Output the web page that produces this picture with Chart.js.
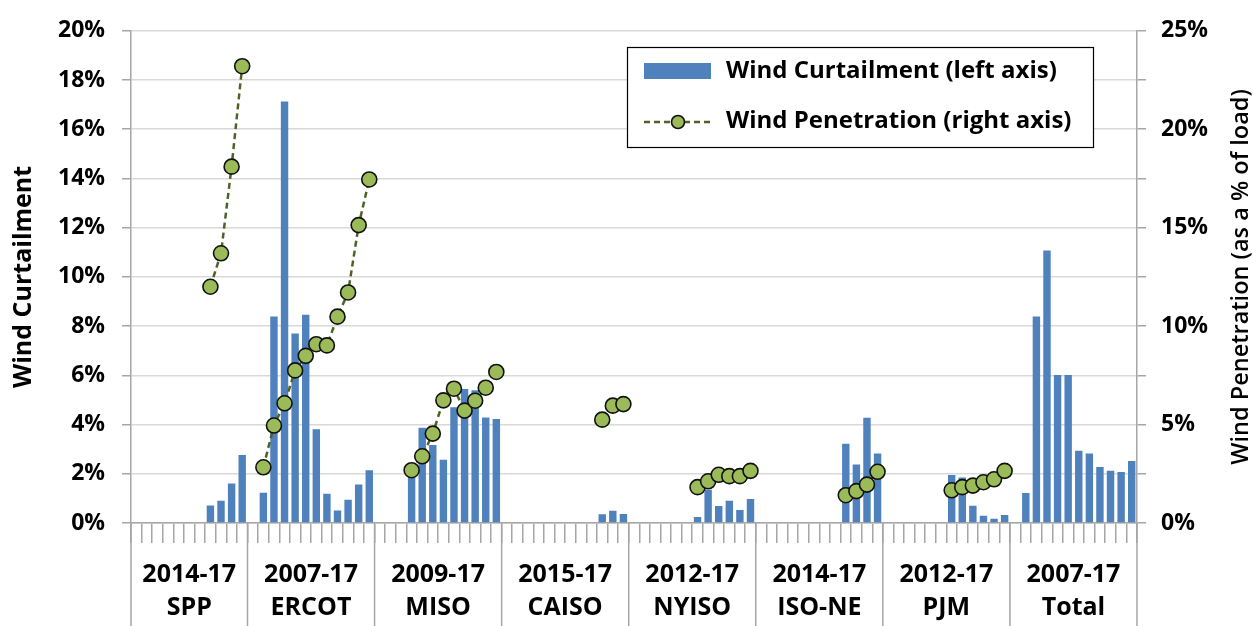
<!DOCTYPE html>
<html>
<head>
<meta charset="utf-8">
<script src="https://cdn.jsdelivr.net/npm/chart.js@4.4.1/dist/chart.umd.min.js"></script>
<style>
  html, body { margin: 0; padding: 0; background: #fff; }
</style>
</head>
<body>
<canvas id="grafico" width="1253" height="626"></canvas>
<script>
const years = ['2007', '2008', '2009', '2010', '2011', '2012', '2013', '2014', '2015', '2016', '2017'];
const regions = ['SPP', 'ERCOT', 'MISO', 'CAISO', 'NYISO', 'ISO-NE', 'PJM', 'Total'];
const periods = ['2014-17', '2007-17', '2009-17', '2015-17', '2012-17', '2014-17', '2012-17', '2007-17'];

// wind curtailment, % of potential generation (one row per region, 2007..2017)
const curtailment = [
  [null, null, null, null, null, null, null, 0.71, 0.90, 1.60, 2.76],
  [1.23, 8.39, 17.13, 7.70, 8.46, 3.81, 1.19, 0.51, 0.94, 1.56, 2.14],
  [null, null, 2.20, 3.87, 3.17, 2.57, 4.70, 5.44, 5.39, 4.29, 4.23],
  [null, null, null, null, null, null, null, null, 0.36, 0.50, 0.37],
  [null, null, null, null, null, 0.24, 1.35, 0.69, 0.90, 0.53, 0.98],
  [null, null, null, null, null, null, null, 3.22, 2.38, 4.28, 2.82],
  [null, null, null, null, null, 1.95, 1.85, 0.70, 0.29, 0.17, 0.32],
  [1.22, 8.39, 11.07, 6.01, 6.01, 2.94, 2.82, 2.28, 2.12, 2.07, 2.52]
];

// wind penetration, % of load
const penetration = [
  [null, null, null, null, null, null, null, 12.0, 13.7, 18.1, 23.2],
  [2.83, 4.95, 6.08, 7.75, 8.49, 9.08, 9.02, 10.48, 11.71, 15.13, 17.45],
  [null, null, 2.68, 3.39, 4.54, 6.23, 6.82, 5.71, 6.21, 6.87, 7.67],
  [null, null, null, null, null, null, null, null, 5.25, 5.96, 6.04],
  [null, null, null, null, null, 1.82, 2.12, 2.45, 2.38, 2.38, 2.65],
  [null, null, null, null, null, null, null, 1.41, 1.62, 1.95, 2.60],
  [null, null, null, null, null, 1.66, 1.82, 1.90, 2.07, 2.22, 2.65],
  [null, null, null, null, null, null, null, null, null, null, null]
];

const leftTicks = { min: 0, max: 20, step: 2 };
const rightTicks = { min: 0, max: 25, step: 2.5, labelEvery: 5 };

// one slot per year, plus an empty slot in front of every group but the first
const labels = [];
const barData = [];
const lineData = [];
const groupFirst = [];
const groupLast = [];
regions.forEach((r, g) => {
  groupFirst.push(labels.length);
  if (g > 0) { labels.push(''); barData.push(null); lineData.push(null); }
  years.forEach((y, k) => {
    labels.push(r + ' ' + y);
    barData.push(curtailment[g][k]);
    lineData.push(penetration[g][k]);
  });
  groupLast.push(labels.length - 1);
});

const FONT = '"Open Sans"';
const GRIS = '#A6A6A6';

const ejeCategorias = {
  id: 'ejeCategorias',
  afterDraw(chart) {
    const { ctx, chartArea, scales: { x } } = chart;
    const slot = x.width / labels.length;
    ctx.save();

    // group separators running down through the label area
    ctx.strokeStyle = GRIS;
    ctx.lineWidth = 1.5;
    ctx.beginPath();
    groupFirst.forEach(i => {
      const px = x.getPixelForValue(i) - slot / 2;
      ctx.moveTo(px, chartArea.bottom);
      ctx.lineTo(px, chart.height);
    });
    ctx.moveTo(chartArea.right, chartArea.bottom);
    ctx.lineTo(chartArea.right, chart.height);
    ctx.stroke();

    // two-level category labels
    ctx.fillStyle = '#000';
    ctx.font = 'bold 25px ' + FONT;
    ctx.textAlign = 'center';
    ctx.textBaseline = 'alphabetic';
    regions.forEach((r, g) => {
      const a = x.getPixelForValue(groupFirst[g]) - slot / 2;
      const b = x.getPixelForValue(groupLast[g]) + slot / 2;
      ctx.fillText(periods[g], (a + b) / 2, 582);
      ctx.fillText(r, (a + b) / 2, 615);
    });

    // right axis title, reading bottom to top
    ctx.save();
    ctx.translate(1241, (chartArea.top + chartArea.bottom) / 2);
    ctx.rotate(-Math.PI / 2);
    ctx.textBaseline = 'middle';
    ctx.font = '600 23.5px ' + FONT;
    ctx.fillText('Wind Penetration (as a % of load)', 0, 0);
    ctx.restore();

    // legend
    const bar = chart.data.datasets[0];
    const line = chart.data.datasets[1];
    ctx.fillStyle = '#fff';
    ctx.fillRect(627, 47, 466, 100);
    ctx.strokeStyle = '#000';
    ctx.lineWidth = 1.2;
    ctx.strokeRect(627.5, 47.5, 466, 100);
    ctx.fillStyle = bar.backgroundColor;
    ctx.fillRect(644, 63, 67, 16);

    ctx.strokeStyle = line.borderColor;
    ctx.lineWidth = line.borderWidth;
    ctx.setLineDash(line.borderDash);
    ctx.beginPath();
    ctx.moveTo(644, 122);
    ctx.lineTo(711, 122);
    ctx.stroke();
    ctx.setLineDash([]);
    ctx.beginPath();
    ctx.arc(678, 122, 6.5, 0, Math.PI * 2);
    ctx.fillStyle = line.pointBackgroundColor;
    ctx.fill();
    ctx.lineWidth = line.pointBorderWidth;
    ctx.strokeStyle = line.pointBorderColor;
    ctx.stroke();

    ctx.fillStyle = '#000';
    ctx.font = 'bold 24px ' + FONT;
    ctx.textAlign = 'left';
    ctx.textBaseline = 'middle';
    ctx.fillText(bar.label, 726, 71);
    ctx.fillText(line.label, 726, 121);
    ctx.restore();
  }
};

new Chart(document.getElementById('grafico'), {
  type: 'bar',
  data: {
    labels: labels,
    datasets: [{
      type: 'bar',
      label: 'Wind Curtailment (left axis)',
      data: barData,
      backgroundColor: '#4F81BD',
      yAxisID: 'y',
      barPercentage: 0.7,
      categoryPercentage: 1,
      order: 1
    }, {
      type: 'line',
      label: 'Wind Penetration (right axis)',
      data: lineData,
      yAxisID: 'y1',
      borderColor: '#4F6228',
      borderWidth: 2.5,
      borderDash: [6, 4],
      pointRadius: 7.5,
      pointBackgroundColor: '#9BBB59',
      pointBorderColor: '#111',
      pointBorderWidth: 1.6,
      tension: 0,
      spanGaps: false,
      order: 0
    }]
  },
  options: {
    responsive: false,
    animation: false,
    devicePixelRatio: 1,
    layout: { padding: { top: 20, right: 0, bottom: 0, left: 0 } },
    plugins: { legend: { display: false }, tooltip: { enabled: false } },
    scales: {
      x: {
        offset: true,
        ticks: { display: false, autoSkip: false },
        grid: { offset: true, drawOnChartArea: false, drawTicks: true, tickLength: 20, color: GRIS, lineWidth: 1.5 },
        border: { display: true, color: GRIS, width: 1.5 },
        afterFit(s) { s.height = 103; }
      },
      y: {
        position: 'left',
        min: leftTicks.min,
        max: leftTicks.max,
        ticks: {
          stepSize: leftTicks.step,
          callback: v => v + '%',
          color: '#000',
          padding: 17,
          font: { family: FONT, weight: 'bold', size: 23 }
        },
        grid: { color: '#D9D9D9', lineWidth: 1.5, tickColor: GRIS, tickLength: 9 },
        border: { color: GRIS, width: 1.5 },
        title: {
          display: true,
          text: 'Wind Curtailment',
          color: '#000',
          padding: { top: 9 },
          font: { family: FONT, weight: 'bold', size: 25 }
        },
        afterFit(s) { s.width = 131; }
      },
      y1: {
        position: 'right',
        min: rightTicks.min,
        max: rightTicks.max,
        ticks: {
          stepSize: rightTicks.step,
          callback: v => Math.abs(v / rightTicks.labelEvery - Math.round(v / rightTicks.labelEvery)) < 1e-6 ? v + '%' : '',
          color: '#000',
          padding: 15,
          font: { family: FONT, weight: 'bold', size: 23 }
        },
        grid: { drawOnChartArea: false, tickColor: GRIS, tickLength: 9, lineWidth: 1.5 },
        border: { color: GRIS, width: 1.5 },
        afterFit(s) { s.width = 116; }
      }
    }
  },
  plugins: [ejeCategorias]
});
</script>
</body>
</html>
